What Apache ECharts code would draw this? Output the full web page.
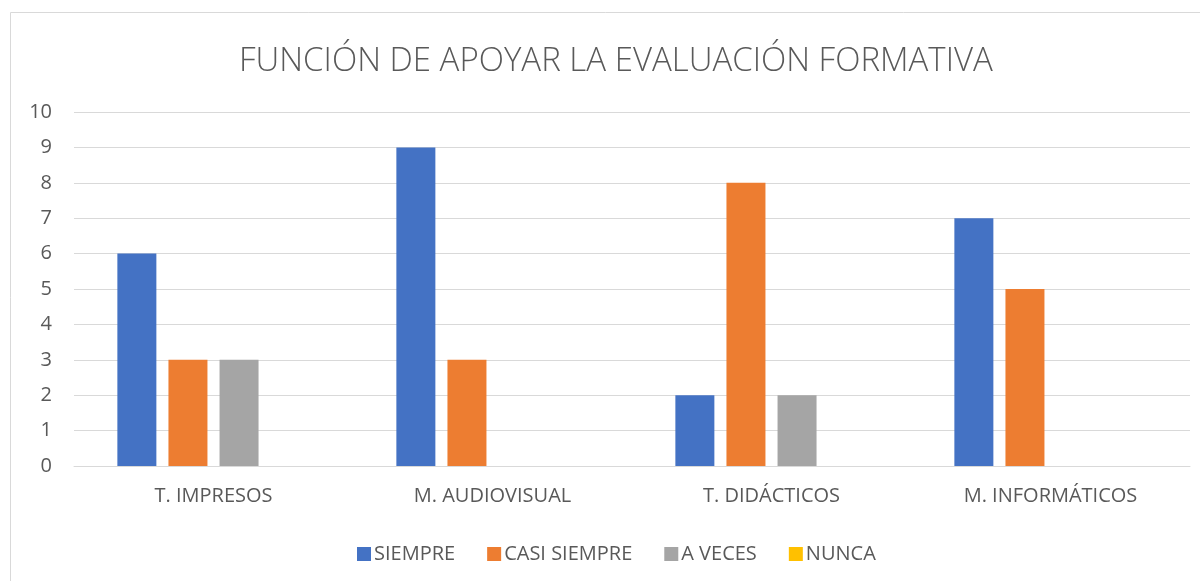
<!DOCTYPE html>
<html>
<head>
<meta charset="utf-8">
<script src="https://cdn.jsdelivr.net/npm/echarts@6/dist/echarts.min.js"></script>
<style>
  html, body { margin: 0; padding: 0; background: #fff; }
  #chart { width: 1200px; height: 581px; }
</style>
</head>
<body>
<div id="chart"></div>
<script>
const categories = ['T. IMPRESOS', 'M. AUDIOVISUAL', 'T. DIDÁCTICOS', 'M. INFORMÁTICOS']
const siempre = [6, 9, 2, 7]
const casiSiempre = [3, 3, 8, 5]
const aVeces = [3, 0, 2, 0]
const nunca = [0, 0, 0, 0]
const yTicks = [0, 10, 1]

const textColor = '#595959'
const font = '"Open Sans", sans-serif'

const chart = echarts.init(document.getElementById('chart'))

function bar(name, data, color) {
  return {
    name: name,
    type: 'bar',
    data: data,
    barWidth: 39,
    barGap: '31%',
    itemStyle: { color: color },
    animation: false
  }
}

chart.setOption({
  animation: false,
  title: {
    text: 'FUNCIÓN DE APOYAR LA EVALUACIÓN FORMATIVA',
    left: 234,
    top: 40,
    textStyle: { color: textColor, fontFamily: font, fontSize: 33, fontWeight: 300 }
  },
  graphic: [{
    type: 'rect',
    shape: { x: 10.5, y: 12.5, width: 1200, height: 600 },
    style: { fill: 'none', stroke: '#d9d9d9', lineWidth: 1 },
    silent: true
  }],
  legend: {
    top: 539,
    left: 352,
    itemWidth: 14,
    itemHeight: 14,
    itemGap: 32,
    icon: 'rect',
    textStyle: { color: textColor, fontFamily: font, fontSize: 20, padding: [0, 0, 0, -2] }
  },
  grid: { left: 74, right: 10, top: 112, bottom: 115, containLabel: false },
  xAxis: {
    type: 'category',
    data: categories,
    axisLine: { lineStyle: { color: '#d9d9d9', width: 1 } },
    axisTick: { show: false },
    axisLabel: { color: textColor, fontFamily: font, fontSize: 20, margin: 20 }
  },
  yAxis: {
    type: 'value',
    min: yTicks[0],
    max: yTicks[1],
    interval: yTicks[2],
    axisLine: { show: false },
    axisTick: { show: false },
    splitLine: { lineStyle: { color: '#d9d9d9', width: 1 } },
    axisLabel: { color: textColor, fontFamily: font, fontSize: 20, margin: 22 }
  },
  series: [
    bar('SIEMPRE', siempre, '#4472c4'),
    bar('CASI SIEMPRE', casiSiempre, '#ed7d31'),
    bar('A VECES', aVeces, '#a5a5a5'),
    bar('NUNCA', nunca, '#ffc000')
  ]
})
</script>
</body>
</html>
